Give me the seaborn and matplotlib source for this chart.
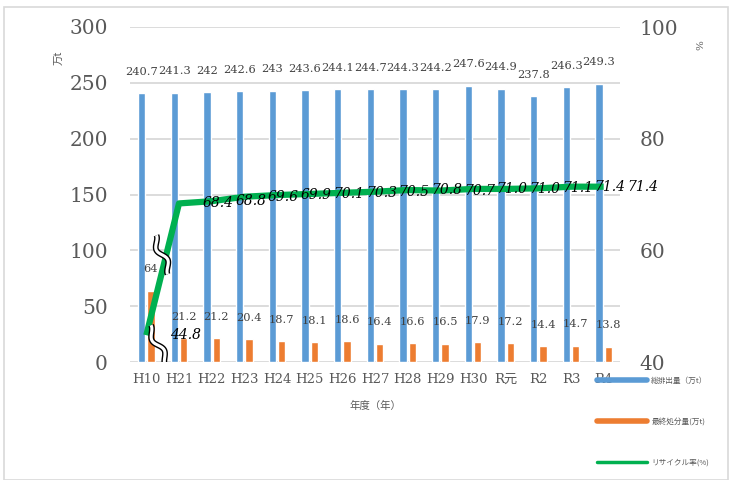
import numpy as np
import pandas as pd
import matplotlib
matplotlib.use("Agg")
import matplotlib.pyplot as plt
import seaborn as sns
from matplotlib.lines import Line2D
from matplotlib.patches import Rectangle
from matplotlib.transforms import IdentityTransform

# ---- data ----
years = ["H10", "H21", "H22", "H23", "H24", "H25", "H26", "H27", "H28", "H29",
         "H30", "R元", "R2", "R3", "R4"]
total_emission = [240.7, 241.3, 242, 242.6, 243, 243.6, 244.1, 244.7, 244.3, 244.2,
                  247.6, 244.9, 237.8, 246.3, 249.3]
final_disposal = [64, 21.2, 21.2, 20.4, 18.7, 18.1, 18.6, 16.4, 16.6, 16.5,
                  17.9, 17.2, 14.4, 14.7, 13.8]
recycle_rate = [44.8, 68.4, 68.8, 69.6, 69.9, 70.1, 70.3, 70.5, 70.8, 70.7,
                71.0, 71.0, 71.1, 71.4, 71.4]
series_names = ["総排出量（万t）", "最終処分量(万t)", "リサイクル率(%)"]
left_ticks = [0, 50, 100, 150, 200, 250, 300]
right_ticks = [40, 60, 80, 100]

BLUE = "#5B9BD5"
ORANGE = "#ED7D31"
GREEN = "#00B050"
GRID = "#D9D9D9"
TICK = "#595959"

sns.set_theme(style="white")
plt.rcParams["font.family"] = ["DejaVu Serif", "Noto Sans CJK JP"]
JP = ["Noto Sans CJK JP", "DejaVu Sans"]

fig = plt.figure(figsize=(7.31, 4.8), dpi=100)
ax = fig.add_axes([130 / 731, 1 - 362 / 480, 490 / 731, 335 / 480])

n = len(years)
df = pd.DataFrame({
    "year": years * 2,
    "value": total_emission + final_disposal,
    "series": [series_names[0]] * n + [series_names[1]] * n,
})
sns.barplot(data=df, x="year", y="value", hue="series", order=years,
            hue_order=series_names[:2], palette=[BLUE, ORANGE],
            width=0.57, gap=0.2, dodge=True, ax=ax, legend=False,
            saturation=1, errorbar=None)

ax.set_xlim(-0.5, n - 0.5)
ax.set_ylim(0, 300)
ax.set_yticks(left_ticks)
ax.yaxis.grid(True, color=GRID, lw=1.3)
ax.set_axisbelow(True)
for s in ax.spines.values():
    s.set_visible(False)
ax.tick_params(axis="y", labelsize=14.5, colors=TICK, length=0, pad=16)
ax.tick_params(axis="x", labelsize=9.5, colors=TICK, length=0, pad=8)
for lbl in ax.get_xticklabels():
    lbl.set_family(["DejaVu Serif", "Noto Sans CJK JP"])
ax.set_xlabel("年度（年）", family=JP, fontsize=7.5, color=TICK, labelpad=11)
ax.set_ylabel("")

# bar value labels
off = 0.1425
for i in range(n):
    ax.text(i - off, total_emission[i] + 19, f"{total_emission[i]:g}",
            ha="center", va="center", fontsize=8.2, color="#404040")
    ax.text(i + off, final_disposal[i] + 19, f"{final_disposal[i]:g}",
            ha="center", va="center", fontsize=8.2, color="#404040")

# secondary axis
ax2 = ax.twinx()
sns.lineplot(x=np.arange(n), y=recycle_rate, color=GREEN, lw=4.5, ax=ax2,
             solid_capstyle="butt", zorder=5)
ax2.set_ylim(40, 100)
ax2.set_yticks(right_ticks)
ax2.set_xlim(-0.5, n - 0.5)
for s in ax2.spines.values():
    s.set_visible(False)
ax2.tick_params(axis="y", labelsize=14.5, colors=TICK, length=0, pad=14)
for i in range(n):
    ax2.text(i + 1.2, recycle_rate[i], f"{recycle_rate[i]:.1f}", ha="center",
             va="center", fontsize=10, style="italic", color="black", zorder=6)

# axis titles
fig.text(60 / 731, 1 - 58 / 480, "万t", family=JP, fontsize=7.5, color=TICK,
         rotation=90, ha="center", va="center")
fig.text(701 / 731, 1 - 45 / 480, "%", fontsize=7.5, color=TICK,
         rotation=90, ha="center", va="center")

# break marks (decorative squiggles)
fig.canvas.draw()
def squiggle(xd, yd, length=38, angle=-62):
    cx, cy = ax.transData.transform((xd, yd))
    t = np.linspace(-0.5, 0.5, 60)
    along = t * length
    perp = 3.2 * np.sin(t * 2 * np.pi * 1.5)
    th = np.deg2rad(angle)
    px = cx + along * np.cos(th) - perp * np.sin(th)
    py = cy + along * np.sin(th) + perp * np.cos(th)
    ax2.plot(px, py, transform=IdentityTransform(), color="black", lw=4.2,
             zorder=8, solid_capstyle="butt")
    ax2.plot(px, py, transform=IdentityTransform(), color="white", lw=2.2,
             zorder=9, solid_capstyle="butt")

squiggle(0.48, 96, length=40, angle=-65)
squiggle(0.36, 15, length=42, angle=-62)

# legend
handles = [Line2D([], [], color=BLUE, lw=4),
           Line2D([], [], color=ORANGE, lw=4),
           Line2D([], [], color=GREEN, lw=2.5)]
leg = fig.legend(handles, series_names, loc="upper left",
                 bbox_to_anchor=(597 / 731, 1 - 377 / 480), frameon=False,
                 prop={"family": JP, "size": 5.5}, labelcolor=TICK,
                 handlelength=6.5, handletextpad=0.6, labelspacing=4.3,
                 borderpad=0, borderaxespad=0)

# figure border
fig.patches.append(Rectangle((4 / 731, 0), 724 / 731, 473 / 480,
                             transform=fig.transFigure, fill=False,
                             edgecolor="#D9D9D9", lw=1.2))

fig.savefig("out.png", dpi=100)
